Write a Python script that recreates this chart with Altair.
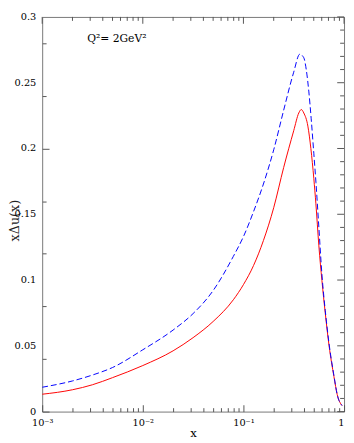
import altair as alt
import pandas as pd

# ---- data ----
red_x = [0.001, 0.002, 0.00316, 0.005, 0.01, 0.02, 0.0316, 0.05, 0.0794, 0.1, 0.126, 0.158, 0.2, 0.251, 0.316,
         0.355, 0.376, 0.398, 0.437, 0.468, 0.501, 0.525, 0.562, 0.603, 0.65, 0.71, 0.794, 0.855, 0.955]
red_y = [0.0132, 0.0166, 0.0204, 0.0258, 0.0350, 0.0462, 0.0562, 0.0685, 0.0850, 0.0965, 0.1110, 0.1300, 0.1550, 0.1855, 0.2135,
         0.2270, 0.2296, 0.2270, 0.2170, 0.2000, 0.1770, 0.1580, 0.1260, 0.0995, 0.0752, 0.0500, 0.0265, 0.0130, 0.0046]

blue_x = [0.001, 0.002, 0.00316, 0.005, 0.01, 0.02, 0.0316, 0.05, 0.0794, 0.1, 0.126, 0.158, 0.2, 0.251, 0.316,
          0.363, 0.398, 0.421, 0.447, 0.471, 0.501, 0.526, 0.562, 0.603, 0.65, 0.71, 0.794, 0.855, 0.955]
blue_y = [0.0185, 0.0233, 0.0278, 0.0335, 0.0470, 0.0620, 0.0745, 0.0920, 0.1180, 0.1330, 0.1520, 0.1730, 0.1990, 0.2290, 0.2580,
          0.2717, 0.2690, 0.2600, 0.2430, 0.2230, 0.1960, 0.1740, 0.1400, 0.1040, 0.0770, 0.0515, 0.0272, 0.0130, 0.0046]

x_major = [0.001, 0.01, 0.1, 1]
x_major_labels = ["10⁻³", "10⁻²", "10⁻¹", "1"]
x_minor = [m * 10 ** e for e in (-3, -2, -1) for m in range(2, 10)]
y_major = [0, 0.05, 0.1, 0.15, 0.2, 0.25, 0.3]
y_major_labels = ["0", "0.05", "0.1", "0.15", "0.2", "0.25", "0.3"]
y_minor = [i / 100 for i in range(31) if i % 5 != 0]

label_text = ["Q²= 2GeV²"]
label_x = [0.0028]
label_y = [0.2807]

# ---- layout / style ----
W, H = 309, 404
GRAY = "#555555"
FONT = "DejaVu Serif"
MAJ, MIN = 7, 4

x_all = sorted(x_major + x_minor)
y_all = sorted(y_major + y_minor)

x_is_major = "abs(log(datum.value)/LN10 - round(log(datum.value)/LN10)) < 0.001"
y_is_major = "abs(datum.value*20 - round(datum.value*20)) < 0.0001"

expr = "''"
for v, lab in reversed(list(zip(x_major, x_major_labels))):
    expr = f"abs(datum.value - {v}) < {v}*0.001 ? '{lab}' : ({expr})"

xs = alt.Scale(type="log", domain=[0.001, 1], nice=False)
ys = alt.Scale(domain=[0, 0.3], nice=False, zero=False)

red_df = pd.DataFrame({"x": red_x, "y": red_y})
blue_df = pd.DataFrame({"x": blue_x, "y": blue_y})
lab_df = pd.DataFrame({"x": label_x, "y": label_y, "t": label_text})
ylab_df = pd.DataFrame({"v": y_major, "t": y_major_labels})

red = alt.Chart(red_df).mark_line(color="#ff0000", strokeWidth=1, interpolate="monotone", clip=True).encode(
    x=alt.X("x:Q", scale=xs, axis=alt.Axis(
        orient="bottom", values=x_all, labelExpr=expr, domain=False, grid=False,
        ticks=True, tickSize={"expr": f"{x_is_major} ? {-MAJ} : {-MIN}"}, tickColor=GRAY, tickWidth=1,
        labelFont=FONT, labelFontSize=10, labelColor="#000000", labelPadding=6 + MAJ,
        labelAlign={"condition": {"test": "datum.value > 0.5", "value": "right"}, "value": "center"},
        labelFlush=False, labelOverlap=False, labelBound=False,
        title="x", titleFont=FONT, titleFontSize=12, titleFontWeight="normal", titleColor="#000000",
        titleY=26, titleBaseline="alphabetic")),
    y=alt.Y("y:Q", scale=ys, axis=alt.Axis(
        orient="left", values=y_all, format=".2~f", labelExpr=f"{y_is_major} ? datum.label : ''",
        domain=False, grid=False,
        ticks=True, tickSize={"expr": f"{y_is_major} ? {-MAJ} : {-MIN}"}, tickColor=GRAY, tickWidth=1,
        labelFont=FONT, labelFontSize=10, labelColor="#000000", labelOpacity=0, labelPadding=6 + MAJ,
        labelFlush=False, labelOverlap=False,
        title="xΔu(x)", titleFont=FONT, titleFontSize=13, titleFontWeight="normal", titleColor="#222222",
        titleX=-28, titleY=208, titleBaseline="middle")),
)

blue = alt.Chart(blue_df).mark_line(color="#0000ff", strokeWidth=1, strokeDash=[6, 3], interpolate="monotone", clip=True).encode(
    x=alt.X("x:Q", scale=xs),
    y=alt.Y("y:Q", scale=ys),
)

text = alt.Chart(lab_df).mark_text(align="left", baseline="alphabetic", font=FONT, fontSize=11, color="#000000").encode(
    x=alt.X("x:Q", scale=xs),
    y=alt.Y("y:Q", scale=ys),
    text="t:N",
)

ylabels = alt.Chart(ylab_df).mark_text(align="right", baseline="middle", font=FONT, fontSize=10, color="#000000").encode(
    y=alt.Y("v:Q", scale=ys),
    x=alt.value(-6),
    text="t:N",
)


def top_ticks(values, length):
    df = pd.DataFrame({"v": values})
    return alt.Chart(df).mark_rule(color=GRAY, strokeWidth=1).encode(
        x=alt.X("v:Q", scale=xs), y=alt.value(0), y2=alt.value(length))


def right_ticks(values, length):
    df = pd.DataFrame({"v": values})
    return alt.Chart(df).mark_rule(color=GRAY, strokeWidth=1).encode(
        y=alt.Y("v:Q", scale=ys), x=alt.value(W), x2=alt.value(W - length))


tick_layers = [top_ticks(x_major, MAJ), top_ticks(x_minor, MIN), right_ticks(y_major, MAJ), right_ticks(y_minor, MIN)]

chart = alt.layer(red, blue, text, ylabels, *tick_layers).properties(
    width=W, height=H,
    autosize=alt.AutoSizeParams(type="none"),
    padding={"left": 35, "top": 4, "right": 2, "bottom": 27},
).configure_view(stroke="#777777", strokeWidth=1)

chart.save("out.html", embed_options={"renderer": "svg", "actions": False})
